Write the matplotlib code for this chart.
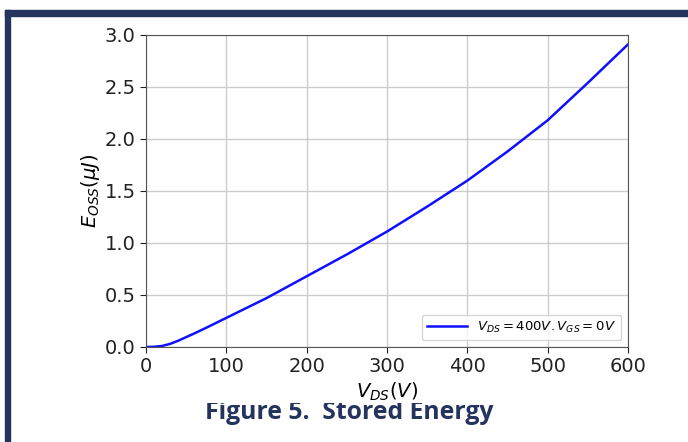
import matplotlib
matplotlib.use("Agg")
import matplotlib.pyplot as plt
from matplotlib.patches import Rectangle
from matplotlib.transforms import Bbox, TransformedBbox

# Eoss vs Vds
vds = [0, 10, 20, 30, 40, 50, 60, 75, 100, 150, 200, 250, 300, 350, 400, 450, 500, 550, 600]
eoss = [0.0, 0.002, 0.01, 0.03, 0.06, 0.095, 0.13, 0.185, 0.28, 0.47, 0.68, 0.89, 1.11, 1.35, 1.60, 1.88, 2.18, 2.54, 2.91]
xticks = [0, 100, 200, 300, 400, 500, 600]
yticks = [0.0, 0.5, 1.0, 1.5, 2.0, 2.5, 3.0]
legenda = r"$V_{DS} = 400V. V_{GS} = 0V$"
legenda_fig = "Figure 5.  Stored Energy"

navy = "#25335f"

fig = plt.figure(figsize=(6.88, 4.42), dpi=100)

# moldura azul escura
fig.patches.append(Rectangle((5/688, 0), 5/688, (442-10)/442, transform=fig.transFigure,
                             color=navy, zorder=0))
fig.patches.append(Rectangle((5/688, (442-16)/442), 1, 6/442, transform=fig.transFigure,
                             color=navy, zorder=0))

# legenda da figura (cortada em cima pela imagem do grafico, como no original)
t = fig.text(0.508, (442-419)/442, legenda_fig, ha="center", va="baseline",
             fontsize=17.8, fontweight="bold", color=navy, family="Open Sans")
t.set_clip_on(True)
t.set_clip_box(TransformedBbox(Bbox([[0, 0], [1, (442-403)/442]]), fig.transFigure))

ax = fig.add_axes([146/688, (442-347)/442, (628-146)/688, (347-35)/442])
ax.plot(vds, eoss, color="#1010ff", lw=1.8, label=legenda)
ax.set_xlim(0, 600)
ax.set_ylim(0, 3.0)
ax.set_xticks(xticks)
ax.set_yticks(yticks)
ax.set_yticklabels([f"{v:.1f}" for v in yticks])
ax.tick_params(labelsize=14, colors="#222222", length=4)
ax.grid(True, color="#cccccc", lw=1)
for s in ax.spines.values():
    s.set_color("#555555")
ax.set_xlabel(r"$V_{DS}(V)$", fontsize=14, labelpad=3)
ax.set_ylabel(r"$E_{OSS}(\mu J)$", fontsize=14, labelpad=2)
ax.legend(loc="lower right", fontsize=9.5, handlelength=3)

fig.savefig("out.png", dpi=100)
